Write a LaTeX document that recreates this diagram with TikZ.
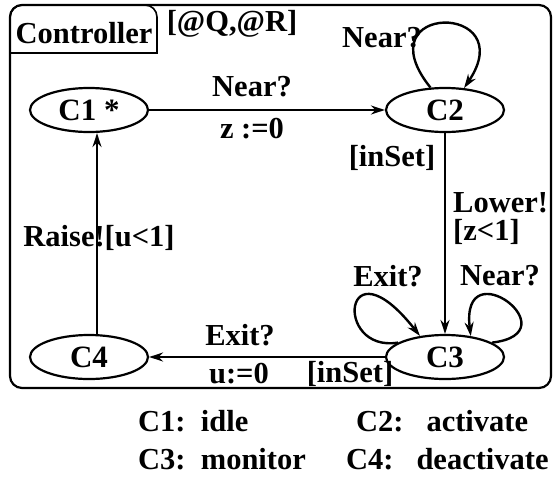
\documentclass[tikz,border=0pt]{standalone}
\usepackage{fontspec}
\setmainfont{Liberation Serif}
\usetikzlibrary{shapes.geometric,arrows.meta}
\begin{document}
\begin{tikzpicture}[x=1pt,y=-1pt,
  lbl/.style={font=\bfseries\fontsize{30.5}{32}\selectfont,inner sep=0pt},
  state/.style={ellipse,draw,line width=2.2pt,minimum width=118pt,minimum height=44pt,inner sep=0pt,
    font=\bfseries\fontsize{31}{33}\selectfont},
  edge/.style={line width=2pt,-{Stealth[length=14pt,width=9pt]}},
  loopedge/.style={line width=2.4pt,-{Stealth[length=14pt,width=9pt]}}]
\useasboundingbox (0,0) rectangle (556,479);

% component frame and its name tab
\draw[line width=2.2pt,rounded corners=12pt] (10,5) rectangle (551,388);
\draw[line width=1.6pt,rounded corners=12pt] (10,53) -- (10,5) -- (157,5) [sharp corners] -- (157,53) -- (10,53);
\node[lbl] (title) at (84,33) {Controller};
\node[lbl] (sync) at (232,24) {[@Q,@R]};

% locations
\node[state] (c1) at (89,110) {C1 *};
\node[state] (c2) at (445,110) {C2};
\node[state] (c3) at (445,357) {C3};
\node[state] (c4) at (89,357) {C4};

% transitions
\draw[edge] (c1) -- (c2);
\node[lbl] (l12a) at (252,87) {Near?};
\node[lbl] (l12b) at (252,129) {z :=0};

\draw[edge] (c2) -- (c3);
\node[lbl] (l23a) at (392,158) {[inSet]};
\node[lbl,anchor=west] (l23b) at (453,203) {Lower!};
\node[lbl,anchor=west] (l23c) at (453,232) {[z<1]};

\draw[edge] (c3) -- (c4);
\node[lbl] (l34a) at (240,335) {Exit?};
\node[lbl] (l34b) at (239,374) {u:=0};
\node[lbl] (l34c) at (350,374) {[inSet]};

\draw[edge] ([xshift=8pt]c4.north) -- ([xshift=8pt]c1.south);
\node[lbl] (l41) at (99,238) {Raise![u<1]};

% self loops
\draw[loopedge] (c2.123) .. controls (362,2) and (522,2) .. (c2.49);
\node[lbl] (l22) at (382,38) {Near?};

\draw[loopedge] (c3.163) .. controls (333,353) and (343,238) .. (c3.140);
\node[lbl] (l33a) at (388,276) {Exit?};

\draw[loopedge] (c3.17) .. controls (573,333) and (460,248) .. (c3.39);
\node[lbl] (l33b) at (500,276) {Near?};

% legend
\node[lbl,anchor=west] (k1) at (138,421) {C1:\ \ idle};
\node[lbl,anchor=west] (k2) at (356,421) {C2:\ \ \ activate};
\node[lbl,anchor=west] (k3) at (138,459) {C3:\ \ monitor};
\node[lbl,anchor=west] (k4) at (346,459) {C4:\ \ \ deactivate};
\end{tikzpicture}
\end{document}
